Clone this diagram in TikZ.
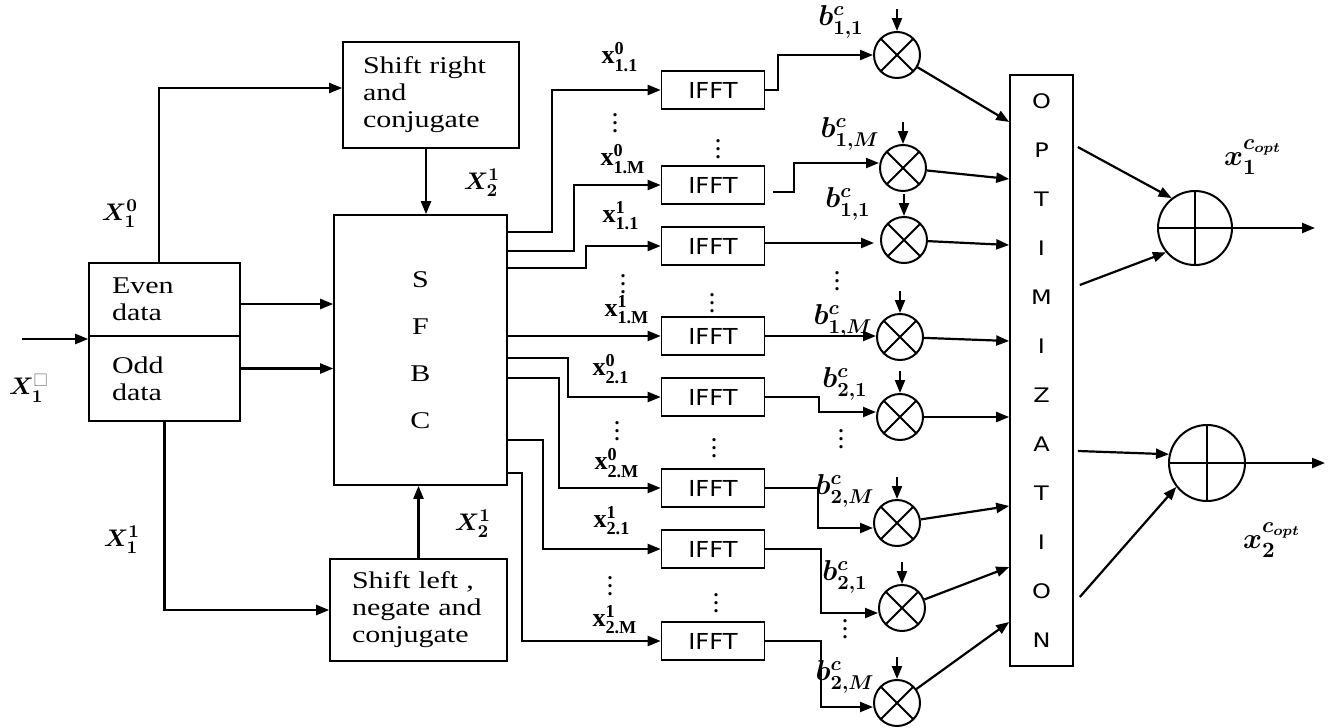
\documentclass[tikz,border=0pt]{standalone}
\usepackage{fontspec}
\usepackage{amsmath,amssymb}
\usetikzlibrary{arrows.meta, positioning, calc}
\newfontfamily\boxfont[FakeStretch=1.25]{Liberation Serif}
\newfontfamily\idxfont{Liberation Serif}
\newfontfamily\ifftfont[FakeStretch=1.1]{DejaVu Sans}
\newfontfamily\optfont[FakeStretch=1.2]{DejaVu Sans}
\tikzset{
  blockbox/.style={draw, line width=0.8pt, align=left, inner ysep=0pt,
    font=\boxfont\fontsize{12}{13.5}\selectfont},
  sfbcbox/.style={draw, line width=0.8pt, minimum width=86.5pt, minimum height=135pt,
    inner sep=0pt, align=center, font=\boxfont\fontsize{12}{23.5}\selectfont},
  optbox/.style={draw, line width=0.8pt, minimum width=31.5pt, minimum height=295.5pt,
    inner sep=0pt, align=center, font=\optfont\fontsize{10}{24.5}\selectfont}
}
\tikzset{
  ifftbox/.style={draw, line width=0.8pt, minimum width=51.5pt, minimum height=19pt,
    inner sep=0pt, font=\ifftfont\fontsize{11}{12}\selectfont},
  mulnode/.style={circle, draw, line width=1pt, minimum size=23pt, inner sep=0pt,
    path picture={\draw[line width=1pt]
      (path picture bounding box.north west) -- (path picture bounding box.south east)
      (path picture bounding box.north east) -- (path picture bounding box.south west);}},
  addnode/.style={circle, draw, line width=1pt, minimum size=37pt, inner sep=0pt,
    path picture={\draw[line width=1pt]
      (path picture bounding box.north) -- (path picture bounding box.south)
      (path picture bounding box.west) -- (path picture bounding box.east);}}
}
\tikzset{
  wire/.style={line width=1.1pt},
  symlabel/.style={font=\boldmath\fontsize{13}{15}\selectfont},
  idxlabel/.style={font=\idxfont\bfseries\fontsize{13}{15}\selectfont},
  coeflabel/.style={font=\boldmath\fontsize{14}{16}\selectfont},
  optlabel/.style={font=\boldmath\fontsize{15}{17}\selectfont},
  vdotlabel/.style={font=\idxfont\bfseries\fontsize{10}{9}\selectfont}
}
\begin{document}
\begin{tikzpicture}[x=0.5pt, y=-0.5pt, >={Triangle[length=6.5pt,width=5pt]}]
  \useasboundingbox (0,0) rectangle (1328,728);
  % split, conjugate blocks and SFBC
  \node[blockbox, text width=52.5pt, inner xsep=11.5pt, minimum height=36.5pt] (even) at (164.5,299.5) {Even\\data};
  \node[blockbox, text width=52.5pt, inner xsep=11.5pt, minimum height=42.5pt] (odd) at (164.5,378.5) {Odd\\data};
  \node[blockbox, text width=68pt, inner xsep=10pt, minimum height=53pt] (shr) at (431,95) {Shift right\\and\\conjugate};
  \node[blockbox, text width=66.5pt, inner xsep=11pt, minimum height=51pt] (shl) at (418.5,610) {Shift left ,\\negate and\\conjugate};
  \node[sfbcbox] (sfbc) at (420.5,350) {S\\F\\B\\C};
  \node[optbox] (opt) at (1041.5,370.5) {O\\P\\T\\I\\M\\I\\Z\\A\\T\\I\\O\\N};

  % IFFT blocks and multipliers
  \foreach \i/\yy in {1/90,2/185,3/246,4/336,5/397,6/488,7/549,8/641}
    \node[ifftbox] (f\i) at (713,\yy) {IFFT};
  \foreach \i/\xx/\yy in {1/897/55,2/903/168,3/904/240,4/900/337,5/900/417,6/897/523,7/902/608,8/897/703}
    \node[mulnode] (m\i) at (\xx,\yy) {};
  \node[addnode] (a1) at (1195,228) {};
  \node[addnode, minimum size=38pt] (a2) at (1207,463) {};

  % input side
  \coordinate (in) at (22,339);
  \draw[wire,->] (in) -- (in -| even.west);
  \draw[wire,->] ([xshift=-2.75pt]even.north) |- ([yshift=3.5pt]shr.west);
  \draw[wire,->] ([xshift=-2.5pt]shr.south) -- ([xshift=-2.5pt]shr.south |- sfbc.north);
  \draw[wire,->] ([yshift=-2.25pt]even.east) -- ([yshift=-2.25pt]even.east -| sfbc.west);
  \draw[wire,->] ([yshift=5pt]odd.east) -- ([yshift=5pt]odd.east -| sfbc.west);
  \draw[wire,->] (odd.south) |- (shl.west);
  \draw[wire,->] (shl.north) -- (shl.north |- sfbc.south);

  % SFBC outputs to the IFFT blocks
  \foreach \i/\yy/\bx in {1/232/552,2/251/574,3/268/586,4/336/600,5/358/568,6/378/559,7/440/543,8/473/522}
    \draw[wire,->] (sfbc.east |- 0,\yy) -- (\bx,\yy) |- (f\i.west);

  % IFFT outputs to the multipliers
  \draw[wire,->] (f1.east) -- (778,90) |- (m1.west);
  \draw[wire,->] ([shift={(8,7)}]f2.east) -- (794,192) |- ([yshift=2.5pt]m2.west);
  \draw[wire,->] ([yshift=1.5pt]f3.east) -- ([xshift=-3pt,yshift=1.5pt]f3.east -| m3.west);
  \draw[wire,->] (f4.east) -- (f4.east -| m4.west);
  \draw[wire,->] (f5.east) -- (819,397) |- ([yshift=2.5pt]m5.west);
  \draw[wire,->] (f6.east) -- (818,488) |- ([yshift=-2.5pt]m6.west);
  \draw[wire,->] (f7.east) -- (821,549) |- ([yshift=-2.5pt]m7.west);
  \draw[wire,->] (f8.east) -- (821,641) |- ([yshift=-2pt]m8.west);
  \foreach \i in {1,...,8} {
    \coordinate (mt\i) at ($(m\i.north)+(0,-22)$);
    \draw[wire,->] (mt\i) -- (m\i.north);
  }

  % multipliers into the optimization block
  \foreach \i/\yy in {1/122,2/179,3/245,4/341,5/417,6/506,7/567,8/622}
    \draw[wire,->] (m\i) -- (opt.west |- 0,\yy);

  % optimization block to the two adders
  \draw[wire,->] ([xshift=2pt]opt.east |- 0,147) -- (a1.128);
  \draw[wire,->] ([xshift=3pt]opt.east |- 0,285) -- (a1.220);
  \draw[wire,->] ([xshift=2pt]opt.east |- 0,451) -- (a2.167);
  \draw[wire,->] ([xshift=3pt]opt.east |- 0,597) -- (a2.218);
  \coordinate (y1) at (1315,228);
  \coordinate (y2) at (1325,463);
  \draw[wire,->] (a1.east) -- (y1);
  \draw[wire,->] (a2.east) -- (y2);

  % IFFT input labels and vertical dots
  \node[idxlabel] (lsa) at (620,57) {$\text{x}^{\text{0}}_{\text{1.1}}$};
  \node[idxlabel] (lsb) at (623,159) {$\text{x}^{\text{0}}_{\text{1.M}}$};
  \node[idxlabel] (lsc) at (621,216) {$\text{x}^{\text{1}}_{\text{1.1}}$};
  \node[idxlabel] (lsd) at (627,310) {$\text{x}^{\text{1}}_{\text{1.M}}$};
  \node[idxlabel] (lse) at (611,369) {$\text{x}^{\text{0}}_{\text{2.1}}$};
  \node[idxlabel] (lsf) at (617,463) {$\text{x}^{\text{0}}_{\text{2.M}}$};
  \node[idxlabel] (lsg) at (612,521) {$\text{x}^{\text{1}}_{\text{2.1}}$};
  \node[idxlabel] (lsh) at (615,620) {$\text{x}^{\text{1}}_{\text{2.M}}$};
  \foreach \xx/\yy in {615/117,623/278,617/425,610/580,718/143,712/297,714/442,716/597,837/275,841/433,845/623}
    \node[vdotlabel] at (\xx,\yy) {\vdots};

  % signal labels
  \node[symlabel] (lin) at (29,388) {$X_1^{\textcolor{gray}{\square}}$};
  \node[symlabel] (lx10) at (120,214) {$X_1^0$};
  \node[symlabel] (lx11) at (122,540) {$X_1^1$};
  \node[symlabel] (lx21a) at (482,183) {$X_2^1$};
  \node[symlabel] (lx21b) at (473,524) {$X_2^1$};
  \node[coeflabel] (lba) at (841,22) {$b^c_{1,1}$};
  \node[coeflabel] (lbb) at (850,134) {$b^c_{1,M}$};
  \node[coeflabel] (lbc) at (848,204) {$b^c_{1,1}$};
  \node[coeflabel] (lbd) at (843,321) {$b^c_{1,M}$};
  \node[coeflabel] (lbe) at (845,384) {$b^c_{2,1}$};
  \node[coeflabel] (lbf) at (845,491) {$b^c_{2,M}$};
  \node[coeflabel] (lbg) at (845,577) {$b^c_{2,1}$};
  \node[coeflabel] (lbh) at (845,677) {$b^c_{2,M}$};
  \node[optlabel] (lo1) at (1253,157) {$x_1^{c_{opt}}$};
  \node[optlabel] (lo2) at (1272,540) {$x_2^{c_{opt}}$};
\end{tikzpicture}
\end{document}
